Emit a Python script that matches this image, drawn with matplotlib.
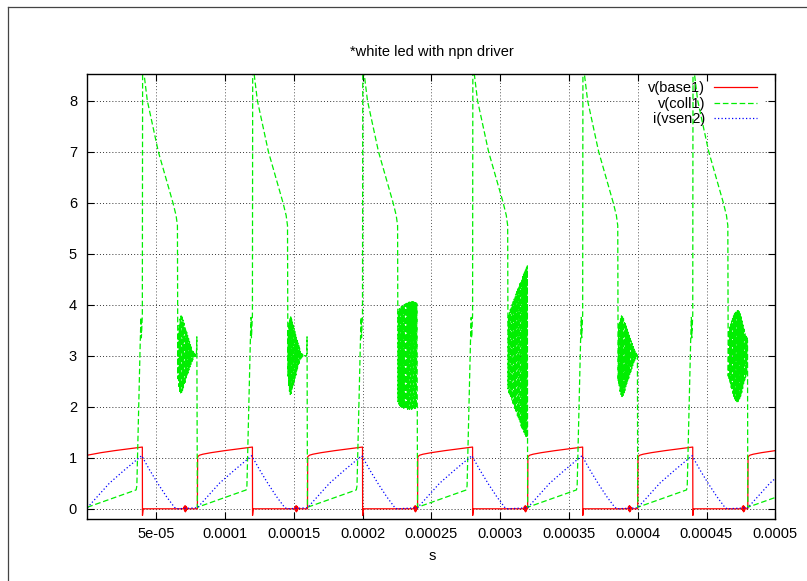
import numpy as np
import matplotlib
matplotlib.use("Agg")
import matplotlib.pyplot as plt
from matplotlib.lines import Line2D

plt.rcParams['font.family'] = ['Liberation Sans', 'DejaVu Sans']

title = "*white led with npn driver"
x_label = "s"
names = ["v(base1)", "v(coll1)", "i(vsen2)"]

x_ticks = [5e-05, 0.0001, 0.00015, 0.0002, 0.00025, 0.0003, 0.00035, 0.0004, 0.00045, 0.0005]
x_tick_labels = ["5e-05", "0.0001", "0.00015", "0.0002", "0.00025", "0.0003",
                 "0.00035", "0.0004", "0.00045", "0.0005"]
y_ticks = [0, 1, 2, 3, 4, 5, 6, 7, 8]

# falling edges of the base drive (us); the last one is only partly on screen
fall_us = [40, 120, 200, 280, 360, 440, 520]

# v(base1), one period, time relative to the falling edge (us)
base_dt = [-40, -39.8, -38.5, -36, -30, -20, -10, 0, 0.1, 0.6]
base_v = [0.0, 1.02, 1.05, 1.07, 1.10, 1.14, 1.175, 1.21, -0.13, 0.0]
base_start = 1.05  # value at t = 0
# small ringing blob on the base while off, relative to the next rising edge (us)
blob_at = [-8.7, -8.0, -1.5, -1.5, -5.8, -3.0]
blob_dt = [-1.2, -0.9, -0.6, -0.3, 0.0, 0.3, 0.6, 0.9, 1.2]
blob_v = [0.0, 0.04, -0.04, 0.06, -0.06, 0.05, -0.04, 0.03, 0.0]

# i(vsen2), relative to the falling edge (us)
sen_dt = [-40, -24, -13, -0.5, 5.3, 11.4, 17.5, 23.3, 25.0]
sen_v = [0.02, 0.5, 0.76, 1.04, 0.76, 0.49, 0.24, 0.03, 0.0]

# v(coll1), common part, relative to the falling edge (us)
coll_dt = [-40, -4.5, -4.0, -1.5, -1.0, -0.7, 0.0, 0.2, 3.6, 11.6, 22.2, 24.5, 25.5]
coll_v = [0.03, 0.37, 0.45, 3.3, 3.75, 3.35, 3.8, 8.75, 8.0, 7.0, 6.0, 5.75, 5.55]

# collector ringing after each flyback, alternating extremes
ring_start = 25.8
ring_end = [39.3, 37.4, 39.8, 39.8, 39.8, 39.8]
ring_1 = [2.55, 3.45, 2.4, 3.6, 2.3, 3.72, 2.27, 3.78, 2.28, 3.76, 2.32, 3.7, 2.37, 3.64,
          2.42, 3.58, 2.48, 3.52, 2.54, 3.46, 2.6, 3.4, 2.66, 3.34, 2.72, 3.28, 2.78, 3.22,
          2.83, 3.17, 2.88, 3.12, 2.92, 3.08, 2.95, 3.05, 2.97, 3.03, 2.99, 3.01, 3.0]
ring_2 = [2.6, 3.5, 2.42, 3.64, 2.3, 3.74, 2.24, 3.76, 2.26, 3.72, 2.32, 3.66, 2.38, 3.6,
          2.44, 3.54, 2.5, 3.48, 2.56, 3.42, 2.62, 3.36, 2.68, 3.3, 2.74, 3.25, 2.8, 3.2,
          2.85, 3.15, 2.9, 3.1, 2.93, 3.07, 2.96, 3.04, 2.98, 3.02, 2.99, 3.01, 3.0]
ring_3 = [2.1, 3.88, 2.05, 3.92, 2.02, 3.94, 2.0, 3.96, 1.99, 3.97, 1.98, 3.98, 1.97, 4.0,
          1.97, 4.01, 1.96, 4.02, 1.96, 4.03, 1.95, 4.04, 1.95, 4.05, 1.95, 4.05, 1.95, 4.06,
          1.95, 4.06, 1.96, 4.06, 1.96, 4.05, 1.97, 4.05, 1.97, 4.04, 1.98, 4.02, 2.0]
ring_4 = [2.35, 3.8, 2.27, 3.86, 2.22, 3.91, 2.17, 3.96, 2.12, 4.01, 2.07, 4.06, 2.02, 4.11,
          1.97, 4.16, 1.92, 4.21, 1.87, 4.26, 1.82, 4.31, 1.77, 4.36, 1.72, 4.41, 1.67, 4.46,
          1.62, 4.5, 1.58, 4.55, 1.54, 4.6, 1.5, 4.64, 1.46, 4.68, 1.42, 4.72, 1.39, 4.76]
ring_5 = [2.5, 3.6, 2.4, 3.68, 2.3, 3.74, 2.24, 3.78, 2.2, 3.77, 2.22, 3.73, 2.27, 3.68,
          2.32, 3.63, 2.38, 3.58, 2.44, 3.52, 2.5, 3.46, 2.56, 3.4, 2.62, 3.34, 2.68, 3.29,
          2.74, 3.24, 2.8, 3.18, 2.86, 3.13, 2.9, 3.09, 2.94, 3.05, 2.97, 3.02, 3.0]
ring_6 = [2.6, 3.5, 2.52, 3.56, 2.45, 3.62, 2.38, 3.68, 2.32, 3.73, 2.26, 3.78, 2.2, 3.82,
          2.15, 3.85, 2.12, 3.87, 2.1, 3.88, 2.1, 3.88, 2.12, 3.86, 2.15, 3.82, 2.2, 3.76,
          2.28, 3.68, 2.36, 3.6, 2.44, 3.52, 2.52, 3.44, 2.58, 3.38, 2.63, 3.35, 3.3]
rings = [ring_1, ring_2, ring_3, ring_4, ring_5, ring_6]
tail_dt = [[39.6], [39.4, 39.7], [], [], [], []]
tail_v = [[3.37], [3.0, 3.37], [], [], [], []]


def build_base():
    t, v = [0.0], [base_start]
    for k, f in enumerate(fall_us):
        for dt, val in zip(base_dt, base_v):
            if k == 0 and dt < -38:
                continue
            t.append(f + dt)
            v.append(val)
        if k < len(blob_at):
            for dt, val in zip(blob_dt, blob_v):
                t.append(f + 40 + blob_at[k] + dt)
                v.append(val)
    return np.array(t), np.array(v)


def build_sen():
    t, v = [], []
    for f in fall_us:
        t += [f + dt for dt in sen_dt]
        v += list(sen_v)
    return np.array(t), np.array(v)


def build_coll():
    t, v = [], []
    for k, f in enumerate(fall_us):
        t += [f + dt for dt in coll_dt]
        v += list(coll_v)
        if k < len(rings):
            rt = np.linspace(ring_start, ring_end[k], len(rings[k]))
            t += list(f + rt)
            v += rings[k]
            t += [f + dt for dt in tail_dt[k]]
            v += tail_v[k]
    return np.array(t), np.array(v)


tb, vb = build_base()
tc, vc = build_coll()
ts, vs = build_sen()

fig = plt.figure(figsize=(8.07, 5.81), dpi=100)
ax = fig.add_axes([87.3 / 807, 1 - 519 / 581, 688 / 807, 445 / 581])

# gnuplot style dotted grid
for xt in x_ticks:
    ax.axvline(xt, color='#555555', lw=0.7, ls=(0, (1, 2.2)), zorder=0.8)
for yt in y_ticks:
    ax.axhline(yt, color='#333333', lw=0.7, ls=(0, (1, 2.2)), zorder=0.8)

ax.plot(tb * 1e-6, vb, color='#ff0000', lw=0.9, label=names[0], zorder=2)
ax.plot(tc * 1e-6, vc, color='#00ee00', lw=0.9, ls=(0, (4.5, 2.2)), label=names[1], zorder=2)
ax.plot(ts * 1e-6, vs, color='#0000ff', lw=0.9, ls=(0, (1, 1.8)), label=names[2], zorder=2)

ax.set_xlim(0, 0.0005)
ax.set_ylim(-0.2, 8.52)
ax.set_xticks(x_ticks)
ax.set_xticklabels(x_tick_labels)
ax.set_yticks(y_ticks)
ax.tick_params(direction='in', length=5, width=0.8, top=True, right=True,
               labelsize=10.5, colors='black')
ax.tick_params(axis='y', pad=7.4)
ax.tick_params(axis='x', pad=6)
for sp in ax.spines.values():
    sp.set_linewidth(1.0)
    sp.set_zorder(3)

leg = ax.legend(loc='upper right', bbox_to_anchor=(0.9836, 1.0), borderaxespad=0,
                markerfirst=False, handlelength=2.95, handletextpad=0.6,
                labelspacing=0.1, borderpad=0.5, frameon=True, fancybox=False,
                framealpha=1, edgecolor='none', facecolor='white', fontsize=10.5)
leg.set_zorder(1)

fig.text(432 / 807, 1 - 52 / 581, title, ha='center', va='center', fontsize=10.5)
fig.text(432 / 807, 1 - 556 / 581, x_label, ha='center', va='center', fontsize=10.5)

# outer frame of the original picture
fig.add_artist(Line2D([7.5 / 807, 7.5 / 807], [0, 1 - 7.3 / 581], color='#444444', lw=0.9))
fig.add_artist(Line2D([7.5 / 807, 1], [1 - 7.3 / 581, 1 - 7.3 / 581], color='#444444', lw=0.9))

fig.savefig("out.png", dpi=100)
